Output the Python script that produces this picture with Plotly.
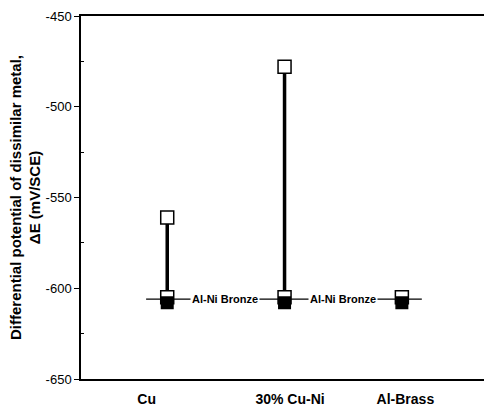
import plotly.graph_objects as go

categories = ["Cu", "30% Cu-Ni", "Al-Brass"]
cat_label_pos = [0.825, 2.047, 3.03]
marker_pos = [1.0, 2.0, 3.0]
top_values = [-561, -478, None]          # open square, top of each bar
bronze_open = [-605, -605, -605]          # Al-Ni Bronze, open square
bronze_filled = [-608, -608, -608]        # Al-Ni Bronze, filled square
bronze_line_x = [0.82, 3.17]
bronze_line_y = [-606, -606]
bronze_labels = ["Al-Ni Bronze", "Al-Ni Bronze"]
bronze_label_x = [1.496, 2.50]
major_ticks = [-650, -600, -550, -500, -450]
minor_ticks = [-625, -575, -525, -475]

NARROW = "Liberation Sans Narrow, Liberation Sans"

fig = go.Figure()

# horizontal Al-Ni bronze reference line
fig.add_trace(go.Scatter(x=bronze_line_x, y=bronze_line_y, mode="lines",
                         line=dict(color="black", width=1.3), showlegend=False))

# vertical bars
for xp, tv, bo in zip(marker_pos, top_values, bronze_open):
    if tv is not None:
        fig.add_trace(go.Scatter(x=[xp, xp], y=[tv, bo], mode="lines",
                                 line=dict(color="black", width=3.5), showlegend=False))

# top open squares
fig.add_trace(go.Scatter(
    x=[p for p, v in zip(marker_pos, top_values) if v is not None],
    y=[v for v in top_values if v is not None], mode="markers",
    marker=dict(symbol="square", size=13, color="white", line=dict(color="black", width=1.5)),
    showlegend=False))

# bronze open squares
fig.add_trace(go.Scatter(x=marker_pos, y=bronze_open, mode="markers",
    marker=dict(symbol="square", size=13, color="white", line=dict(color="black", width=1.5)),
    showlegend=False))
# bronze filled squares
fig.add_trace(go.Scatter(x=marker_pos, y=bronze_filled, mode="markers",
    marker=dict(symbol="square", size=11.5, color="black", line=dict(color="black", width=1.5)),
    showlegend=False))

# helper trace for the minor-tick axis
fig.add_trace(go.Scatter(x=[None], y=[None], yaxis="y2", showlegend=False, hoverinfo="skip"))

for lx, lt in zip(bronze_label_x, bronze_labels):
    fig.add_annotation(x=lx, y=bronze_line_y[0], text=lt, showarrow=False,
                       bgcolor="white", borderpad=1,
                       font=dict(family=NARROW, size=11, color="black", weight="bold"))

fig.update_layout(
    width=484, height=407,
    margin=dict(l=81, r=0, t=16, b=26),
    paper_bgcolor="white", plot_bgcolor="white",
    font=dict(family=NARROW, color="black"),
    xaxis=dict(range=[0.265, 3.70], showgrid=False, zeroline=False,
               showline=True, linecolor="black", linewidth=1.5, mirror=True,
               tickvals=cat_label_pos, ticktext=categories, ticks="",
               ticklabelstandoff=6,
               tickfont=dict(family=NARROW, size=14, weight="bold")),
    yaxis=dict(range=[-650, -450], showgrid=False, zeroline=False,
               showline=True, linecolor="black", linewidth=1.5, mirror=False,
               tickvals=major_ticks,
               ticktext=[str(v) for v in major_ticks],
               ticks="outside", ticklen=5, tickwidth=1, tickcolor="black",
               tickfont=dict(family=NARROW, size=13),
               title=dict(text="Differential potential of dissimilar metal,<br>ΔE (mV/SCE)",
                          font=dict(family="Liberation Sans", size=15, weight="bold"),
                          standoff=1)),
    yaxis2=dict(range=[-650, -450], overlaying="y", side="left", showgrid=False,
                zeroline=False, showline=False, tickvals=minor_ticks,
                ticks="inside", ticklen=3, tickwidth=1, tickcolor="black",
                showticklabels=False),
)

fig.write_html("out.html")
